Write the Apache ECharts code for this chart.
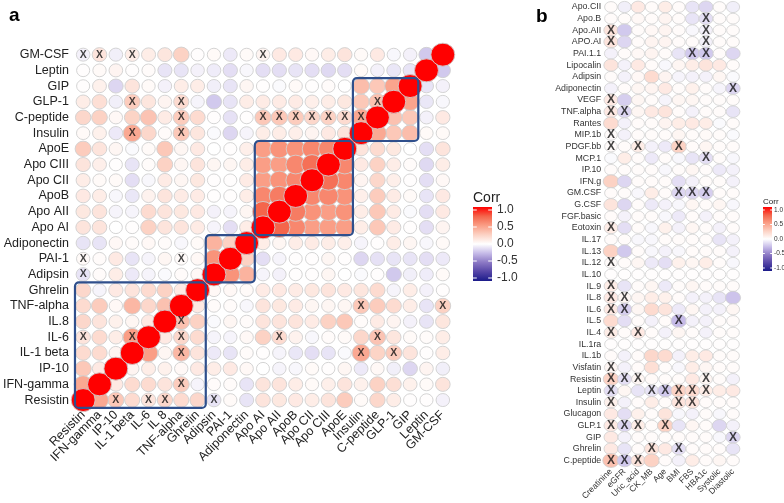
<!DOCTYPE html>
<html><head><meta charset="utf-8">
<script src="https://cdn.jsdelivr.net/npm/echarts@6/dist/echarts.min.js"></script>
<style>html,body{margin:0;padding:0;background:#fff}#c{width:784px;height:503px}</style>
</head><body><div id="c"></div>
<script>
// ---------- Panel a ----------
const aXLabels = ['Resistin','IFN-gamma','IP-10','IL-1 beta','IL-6','IL 8','TNF-alpha','Ghrelin','Adipsin','PAI-1','Adiponectin','Apo AI','Apo AII','ApoB','Apo CII','Apo CIII','ApoE','Insulin','C-peptide','GLP-1','GIP','Leptin','GM-CSF'];
const aYLabels = ['Resistin','IFN-gamma','IP-10','IL-1 beta','IL-6','IL.8','TNF-alpha','Ghrelin','Adipsin','PAI-1','Adiponectin','Apo AI','Apo AII','ApoB','Apo CII','Apo CIII','ApoE','Insulin','C-peptide','GLP-1','GIP','Leptin','GM-CSF'];
// aCorr[row][col]; row 0 = Resistin (bottom), col 0 = Resistin (left)
const aCorr = [
[1,0.45,0.3,0.2,0.15,0.22,0.2,0.22,-0.1,0.03,-0.1,0.15,0.13,0.12,0.1,0.15,0.28,0.03,0.22,0.1,0.01,0.01,-0.05],
[0.45,1,0.12,0.2,0.2,0.15,0.28,-0.04,0.02,0.02,-0.1,0.15,0.15,0.1,0.03,0.09,0.15,0.08,0.25,0.18,0.08,0.03,0.15],
[0.3,0.12,1,0.06,0.1,0.08,0.04,0.12,0.1,0.12,0.04,0.0,-0.04,-0.03,0.03,0.01,0.05,-0.08,0.04,-0.06,-0.15,0.06,-0.06],
[0.2,0.2,0.06,1,0.5,0.05,0.38,0.15,-0.08,-0.1,0.02,0.01,-0.04,-0.09,-0.12,-0.1,-0.02,0.45,0.24,0.28,0.15,0.01,0.1],
[0.15,0.2,0.1,0.5,1,0.12,0.22,0.2,-0.04,-0.04,0.04,0.25,0.2,0.07,-0.03,0.02,0.03,0.22,0.32,0.14,0.03,0.02,0.1],
[0.22,0.15,0.08,0.05,0.12,1,0.33,0.25,-0.02,0.05,0.02,0.15,0.15,0.15,0.11,0.25,0.3,0.02,0.11,0.06,-0.05,-0.1,0.14],
[0.2,0.28,0.04,0.38,0.22,0.33,1,0.12,0.02,0.02,-0.03,0.15,0.13,0.11,0.05,0.05,0.05,0.3,0.28,0.2,0.1,-0.1,0.25],
[0.22,-0.04,0.12,0.15,0.2,0.25,0.12,1,0.04,0.04,0.03,0.11,0.12,0.11,0.13,0.15,0.12,0.14,0.2,-0.04,0.1,-0.05,0.01],
[-0.1,0.02,0.1,-0.08,-0.04,-0.02,0.02,0.04,1,0.55,0.4,-0.04,-0.05,0.01,0.01,0.05,0.0,-0.02,0.01,-0.2,-0.06,-0.07,0.03],
[0.03,0.02,0.12,-0.1,-0.04,0.05,0.02,0.04,0.55,1,0.25,-0.12,-0.04,0.01,0.01,0.05,0.01,-0.15,-0.11,-0.1,-0.1,-0.12,-0.08],
[-0.1,-0.1,0.04,0.02,0.04,0.02,-0.03,0.03,0.4,0.25,1,0.1,0.05,0.1,0.11,0.1,0.09,-0.04,0.01,0.1,0.05,-0.03,0.03],
[0.15,0.15,0.0,0.01,0.25,0.15,0.15,0.11,-0.04,-0.12,0.1,1,0.75,0.6,0.5,0.5,0.5,0.1,0.3,0.11,0.01,-0.12,0.06],
[0.13,0.15,-0.04,-0.04,0.2,0.15,0.13,0.12,-0.05,-0.04,0.05,0.75,1,0.65,0.55,0.5,0.55,0.1,0.3,0.11,-0.02,-0.12,0.12],
[0.12,0.1,-0.03,-0.09,0.07,0.15,0.11,0.11,0.01,0.01,0.1,0.6,0.65,1,0.6,0.6,0.55,0.09,0.28,0.11,0.03,-0.1,0.12],
[0.1,0.03,0.03,-0.12,-0.03,0.11,0.05,0.13,0.01,0.01,0.11,0.5,0.55,0.6,1,0.7,0.6,0.06,0.22,0.09,0.01,-0.12,0.04],
[0.15,0.09,0.01,-0.1,0.02,0.25,0.05,0.15,0.05,0.05,0.1,0.5,0.5,0.6,0.7,1,0.6,0.12,0.25,0.1,0.02,-0.14,0.1],
[0.28,0.15,0.05,-0.02,0.03,0.3,0.05,0.12,0.0,0.01,0.09,0.5,0.55,0.55,0.6,0.6,1,0.15,0.2,0.13,0.0,-0.12,0.15],
[0.03,0.08,-0.08,0.45,0.22,0.02,0.3,0.14,-0.02,-0.15,-0.04,0.1,0.1,0.09,0.06,0.12,0.15,1,0.45,0.3,0.35,0.03,0.03],
[0.22,0.25,0.04,0.24,0.32,0.11,0.28,0.2,0.01,-0.11,0.01,0.3,0.3,0.28,0.22,0.25,0.2,0.45,1,0.33,0.3,-0.05,0.12],
[0.1,0.18,-0.06,0.28,0.14,0.06,0.2,-0.04,-0.2,-0.1,0.1,0.11,0.11,0.11,0.09,0.1,0.13,0.3,0.33,1,0.47,-0.09,-0.03],
[0.01,0.08,-0.15,0.15,0.03,-0.05,0.1,0.1,-0.06,-0.1,0.05,0.01,-0.02,0.03,0.01,0.02,0.0,0.35,0.3,0.47,1,-0.1,-0.05],
[0.01,0.03,0.06,0.01,0.02,-0.1,-0.1,-0.05,-0.07,-0.12,-0.03,-0.12,-0.12,-0.1,-0.12,-0.14,-0.12,0.03,-0.05,-0.09,-0.1,1,-0.2],
[-0.05,0.15,-0.06,0.1,0.1,0.14,0.25,0.01,0.03,-0.08,0.03,0.06,0.12,0.12,0.04,0.1,0.15,0.03,0.12,-0.03,-0.05,-0.2,1]
];
// non-significant cells [col,row]
const aInsig = [[0,22],[1,22],[3,22],[11,22],[3,19],[6,19],[18,19],[6,18],[11,18],[12,18],[13,18],[14,18],[15,18],[16,18],[17,18],[3,17],[6,17],[0,9],[6,9],[0,8],[17,6],[22,6],[6,5],[0,4],[3,4],[6,4],[12,4],[18,4],[6,3],[17,3],[19,3],[6,1],[2,0],[4,0],[5,0],[8,0]];
// cluster boxes [firstIndex,lastIndex]
const aBlocks = [[0,7],[8,10],[11,16],[17,20]];

// ---------- Panel b ----------
const bRows = ['Apo.CII','Apo.B','Apo.AII','APO.AI','PAI.1.1','Lipocalin','Adipsin','Adiponectin','VEGF','TNF.alpha','Rantes','MIP.1b','PDGF.bb','MCP.1','IP.10','IFN.g','GM.CSF','G.CSF','FGF.basic','Eotoxin','IL.17','IL.13','IL.12','IL.10','IL.9','IL.8','IL.6','IL.5','IL.4','IL.1ra','IL.1b','Visfatin','Resistin','Leptin','Insulin','Glucagon','GLP.1','GIP','Ghrelin','C.peptide'];
const bCols = ['Creatinine','eGFR','Uric_acid','CK_MB','Age','BMI','FBS','HBA1c','Systolic','Diastolic'];
const bCorr = [
[0.02,-0.06,0.12,0.02,0.1,0.02,-0.1,-0.15,0.02,-0.06],
[0.02,0.02,0.04,0.02,0.06,0.02,-0.1,-0.12,0.02,0.02],
[0.15,-0.2,0.02,0.04,0.06,0.02,-0.03,-0.05,0.02,0.02],
[0.15,-0.15,0.02,0.06,0.06,0.02,0.02,-0.05,0.02,0.02],
[-0.05,0.02,0.04,0.06,0.02,-0.1,-0.2,-0.2,0.02,-0.15],
[0.15,-0.05,0.12,0.02,-0.03,0.05,0.1,0.15,0.12,0.02],
[0.02,-0.05,0.04,0.2,0.06,-0.04,-0.05,-0.05,0.05,-0.02],
[-0.05,0.02,0.05,0.06,0.12,0.02,0.08,0.02,-0.04,-0.15],
[0.12,-0.18,0.05,0.02,-0.04,0.05,0.05,0.02,0.02,0.02],
[0.12,-0.15,0.05,0.12,0.15,0.02,-0.05,0.02,0.02,-0.1],
[0.2,-0.05,0.02,0.02,0.06,0.1,0.12,0.1,-0.02,0.02],
[0.02,-0.05,0.02,0.02,0.02,0.05,0.02,0.03,0.02,-0.02],
[0.02,0.02,0.1,-0.05,-0.08,0.25,0.02,0.05,0.02,0.02],
[-0.02,0.1,0.02,-0.08,0.02,-0.03,-0.1,-0.12,0.02,-0.03],
[0.02,0.02,0.02,0.02,-0.03,0.02,0.05,0.02,-0.08,-0.05],
[0.25,-0.15,0.02,0.02,0.02,-0.12,-0.05,0.02,0.02,-0.05],
[0.02,0.02,-0.03,0.1,0.02,-0.15,-0.15,-0.18,0.02,0.02],
[0.15,-0.15,0.02,-0.08,-0.05,-0.03,0.05,0.02,0.05,-0.03],
[0.02,-0.05,0.02,0.02,-0.03,-0.08,0.02,-0.05,0.02,0.02],
[0.1,-0.12,0.02,-0.03,0.08,-0.05,0.05,0.02,-0.05,0.02],
[0.02,0.02,-0.03,-0.03,0.02,0.02,0.02,0.02,-0.1,-0.05],
[0.25,-0.2,0.02,-0.03,-0.05,-0.03,0.02,0.02,0.02,-0.05],
[0.02,0.02,0.05,-0.08,-0.12,0.08,0.05,0.1,0.02,-0.03],
[0.01,0.01,0.01,0.01,0.01,0.01,0.01,0.01,0.01,0.01],
[0.1,-0.1,0.02,0.05,-0.08,0.02,0.05,0.02,0.02,0.02],
[0.12,0.05,0.05,0.1,0.08,0.02,-0.05,-0.05,-0.1,-0.22],
[0.12,-0.18,0.05,0.2,0.15,-0.08,0.05,-0.05,-0.05,0.05],
[0.2,-0.12,0.02,-0.05,0.02,-0.25,-0.05,-0.05,0.02,0.02],
[0.1,0.02,0.12,0.02,-0.05,0.05,0.02,-0.05,0.02,0.02],
[0.01,0.01,0.01,0.01,0.01,0.01,0.01,0.01,0.01,0.01],
[0.02,-0.05,0.02,0.22,0.2,-0.05,0.1,0.12,0.02,0.02],
[0.05,-0.05,0.02,0.18,0.02,-0.03,0.1,0.05,0.02,0.02],
[0.25,-0.12,0.05,0.03,0.02,0.02,0.12,0.05,0.02,-0.05],
[-0.12,0.05,-0.1,-0.1,-0.2,0.25,0.2,0.1,0.1,0.12],
[0.08,-0.05,0.02,0.1,0.02,0.15,0.15,0.02,0.02,0.02],
[0.12,-0.12,0.08,0.02,0.15,-0.03,-0.05,0.02,-0.03,0.02],
[0.12,-0.15,0.1,0.02,0.25,-0.1,0.05,0.02,-0.15,-0.05],
[0.12,-0.05,0.02,0.02,0.02,0.02,0.02,0.02,-0.03,-0.15],
[0.12,-0.1,0.02,0.15,0.12,-0.12,0.02,0.02,0.02,-0.1],
[0.33,-0.2,0.15,0.25,0.02,-0.05,0.1,0.02,0.05,0.02]
];
const bInsig = [[7,1],[0,2],[7,2],[0,3],[7,3],[6,4],[7,4],[9,7],[0,8],[0,9],[1,9],[0,11],[0,12],[2,12],[5,12],[7,13],[5,16],[6,16],[7,16],[0,19],[0,22],[0,24],[0,25],[1,25],[0,26],[1,26],[5,27],[0,28],[2,28],[0,31],[0,32],[1,32],[2,32],[7,32],[0,33],[3,33],[4,33],[5,33],[6,33],[7,33],[0,34],[5,34],[6,34],[0,36],[1,36],[2,36],[4,36],[9,37],[3,38],[5,38],[0,39],[1,39],[2,39]];

const legendTicks = ['1.0','0.5','0.0','-0.5','-1.0'];
const palette = ['#1b1b8a','#5545a6','#8b78c4','#c6bbe8','#ffffff','#fcd2c4','#fa9e86','#f4654b','#ff0000'];

// ---------- build ----------
const FONT = '"Liberation Sans", Arial, sans-serif';
const aData = [];
aCorr.forEach((row, r) => row.forEach((v, c) => aData.push([c, r, v])));
aData.sort((p, q) => Math.abs(p[2]) - Math.abs(q[2]));
const bData = [];
bCorr.forEach((row, r) => row.forEach((v, c) => bData.push([c, r, v])));

const chart = echarts.init(document.getElementById('c'), null, {renderer: 'canvas'});

const stops = palette.slice().reverse().map((col, i) => ({offset: i / (palette.length - 1), color: col}));
function legend(x, y, w, h, labX, fs, titleFs, titleY) {
  const els = [
    {type: 'text', left: x, top: titleY, style: {text: 'Corr', font: titleFs + 'px ' + FONT, fill: '#222'}},
    {type: 'rect', shape: {x: x, y: y, width: w, height: h}, style: {fill: new echarts.graphic.LinearGradient(0, 0, 0, 1, stops)}}
  ];
  legendTicks.forEach((t, i) => {
    const yy = y + 3 + i * (h - 6) / (legendTicks.length - 1);
    els.push({type: 'text', x: labX, y: yy, style: {text: t, font: fs + 'px ' + FONT, fill: '#333', textVerticalAlign: 'middle'}});
    els.push({type: 'line', shape: {x1: x, y1: yy, x2: x + w * 0.2, y2: yy}, style: {stroke: '#fff', lineWidth: 1}});
    els.push({type: 'line', shape: {x1: x + w * 0.8, y1: yy, x2: x + w, y2: yy}, style: {stroke: '#fff', lineWidth: 1}});
  });
  return els;
}

const option = {
  animation: false,
  backgroundColor: '#fff',
  grid: [
    {left: 73.8, top: 46.8, width: 377.2, height: 361.1},
    {left: 604.2, top: 1.2, width: 135.6, height: 467.6}
  ],
  xAxis: [
    {gridIndex: 0, type: 'category', data: aXLabels, boundaryGap: true,
     axisLine: {show: false}, axisTick: {show: false}, splitLine: {show: false},
     axisLabel: {rotate: 45, interval: 0, fontSize: 12.5, color: '#222', fontFamily: FONT, margin: 5}},
    {gridIndex: 1, type: 'category', data: bCols, boundaryGap: true,
     axisLine: {show: false}, axisTick: {show: false}, splitLine: {show: false},
     axisLabel: {rotate: 45, interval: 0, fontSize: 8.5, color: '#333', fontFamily: FONT, margin: 4}}
  ],
  yAxis: [
    {gridIndex: 0, type: 'category', data: aYLabels, boundaryGap: true,
     axisLine: {show: false}, axisTick: {show: false}, splitLine: {show: false},
     axisLabel: {interval: 0, fontSize: 12.5, color: '#222', fontFamily: FONT, margin: 6}},
    {gridIndex: 1, type: 'category', data: bRows, inverse: true, boundaryGap: true,
     axisLine: {show: false}, axisTick: {show: false}, splitLine: {show: false},
     axisLabel: {interval: 0, fontSize: 8.8, color: '#333', fontFamily: FONT, margin: 3}}
  ],
  visualMap: [{type: 'continuous', show: false, min: -1, max: 1, dimension: 2, seriesIndex: [0, 1],
    inRange: {color: palette}}],
  series: [
    {type: 'scatter', xAxisIndex: 0, yAxisIndex: 0, data: aData,
     symbolSize: v => { const d = 12.5 + 10.5 * Math.abs(v[2]); return [d * 1.04, d]; },
     itemStyle: {borderColor: '#cfcfcf', borderWidth: 0.9, opacity: 1}},
    {type: 'scatter', xAxisIndex: 1, yAxisIndex: 1, data: bData,
     symbolSize: v => { const d = 12.5 + 12 * Math.abs(v[2]); return [d, d * 0.85]; },
     itemStyle: {borderColor: '#cfcfcf', borderWidth: 0.8, opacity: 1}},
    {type: 'custom', xAxisIndex: 0, yAxisIndex: 0, data: aBlocks, encode: {x: 0, y: 1}, z: 5,
     renderItem: (params, api) => {
       const s = api.value(0), e = api.value(1);
       const p0 = api.coord([s, s]), p1 = api.coord([e, e]);
       const sz = api.size([1, 1]);
       return {type: 'rect', shape: {x: p0[0] - sz[0] / 2, y: p1[1] - sz[1] / 2,
         width: p1[0] - p0[0] + sz[0], height: p0[1] - p1[1] + sz[1], r: 4},
         style: {fill: 'none', stroke: '#2f4f8c', lineWidth: 2.2}};
     }},
    {type: 'scatter', xAxisIndex: 0, yAxisIndex: 0, data: aInsig, symbolSize: 1, z: 6,
     itemStyle: {color: 'rgba(0,0,0,0)'},
     label: {show: true, position: 'inside', formatter: 'X', color: '#111', fontSize: 10.5, fontWeight: 'bold', fontFamily: FONT}},
    {type: 'scatter', xAxisIndex: 1, yAxisIndex: 1, data: bInsig, symbolSize: 1, z: 6,
     itemStyle: {color: 'rgba(0,0,0,0)'},
     label: {show: true, position: 'inside', formatter: 'X', color: '#111', fontSize: 12, fontWeight: 'bold', fontFamily: FONT}}
  ],
  graphic: [
    {type: 'text', left: 9, top: 6, style: {text: 'a', font: 'bold 19px ' + FONT, fill: '#000'}},
    {type: 'text', left: 536, top: 7, style: {text: 'b', font: 'bold 19px ' + FONT, fill: '#000'}}
  ].concat(legend(473, 207, 19, 74, 497, 12, 14, 191))
   .concat(legend(763, 207, 9, 64, 774, 6.5, 8, 198))
};
chart.setOption(option);
</script></body></html>
